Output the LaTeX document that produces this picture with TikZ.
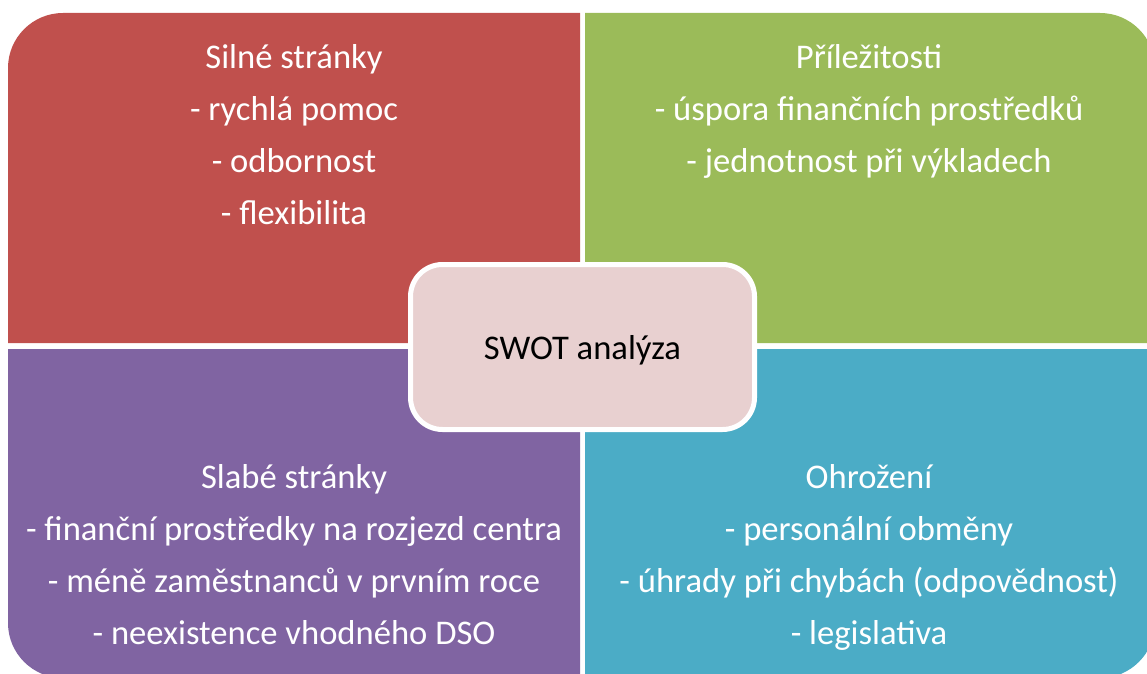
\documentclass[tikz,border=0pt]{standalone}
\usepackage{fontspec}
\setmainfont{Carlito}
\definecolor{qred}{HTML}{C0504D}
\definecolor{qgreen}{HTML}{9BBB59}
\definecolor{qpurple}{HTML}{8064A2}
\definecolor{qblue}{HTML}{4BACC6}
\definecolor{qpink}{HTML}{E8D0D0}
\tikzset{
  qtext/.style={text=white, anchor=base, inner sep=0pt, font=\fontsize{34.6}{40}\selectfont},
  centerbox/.style={fill=qpink, draw=white, line width=5pt, rounded corners=32pt,
     minimum width=344pt, minimum height=165pt, inner sep=0pt,
     font=\fontsize{34.6}{40}\selectfont, text=black}
}
\begin{document}
\begin{tikzpicture}[x=1pt,y=1pt]
\useasboundingbox (0,0) rectangle (1147,673);
\begin{scope}
\clip (0,0) rectangle (1147,673);
\fill[qred] (580,330) -- (8,330) -- (8,605) arc[start angle=180,end angle=90,radius=55] -- (580,660) -- cycle;
\fill[qgreen] (585,330) -- (585,660) -- (1100,660) arc[start angle=90,end angle=0,radius=55] -- (1155,330) -- cycle;
\fill[qpurple] (580,324) -- (8,324) -- (8,50) arc[start angle=180,end angle=270,radius=55] -- (580,-5) -- cycle;
\fill[qblue] (585,324) -- (1155,324) -- (1155,50) arc[start angle=0,end angle=-90,radius=55] -- (585,-5) -- cycle;
\end{scope}
% Strengths
\node[qtext] (s0) at (294,604.5) {Silné stránky};
\node[qtext] (s1) at (294,552.5) {- rychlá pomoc};
\node[qtext] (s2) at (294,500.5) {- odbornost};
\node[qtext] (s3) at (294,448.5) {- flexibilita};
% Opportunities
\node[qtext] (o0) at (869,604.5) {Příležitosti};
\node[qtext] (o1) at (869,552.5) {- úspora finančních prostředků};
\node[qtext] (o2) at (869,500.5) {- jednotnost při výkladech};
% Weaknesses
\node[qtext] (w0) at (294,184.5) {Slabé stránky};
\node[qtext] (w1) at (294,132.5) {- finanční prostředky na rozjezd centra};
\node[qtext] (w2) at (294,80.5) {- méně zaměstnanců v prvním roce};
\node[qtext] (w3) at (294,28.5) {- neexistence vhodného DSO};
% Threats
\node[qtext] (t0) at (869,184.5) {Ohrožení};
\node[qtext] (t1) at (869,132.5) {- personální obměny};
\node[qtext] (t2) at (869,80.5) {- úhrady při chybách (odpovědnost)};
\node[qtext] (t3) at (869,28.5) {- legislativa};
% Center
\node[centerbox] (c) at (582.5,326) {};
\node[anchor=base, inner sep=0pt, font=\fontsize{34.6}{40}\selectfont] (ct) at (582.5,314) {SWOT analýza};
\end{tikzpicture}
\end{document}
